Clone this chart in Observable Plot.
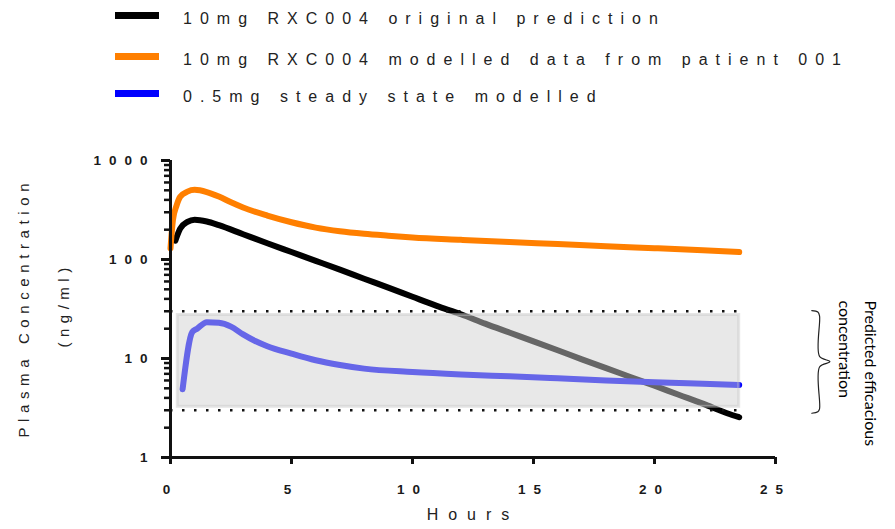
<!DOCTYPE html>
<html><head><meta charset="utf-8">
<script src="https://cdn.jsdelivr.net/npm/d3@7"></script>
<script src="https://cdn.jsdelivr.net/npm/@observablehq/plot@0.6"></script>
<style>
body{margin:0;background:#fff;}
#legend{position:relative;width:895px;height:130px;font-family:"Liberation Sans",Arial,sans-serif;}
.item{position:absolute;left:0;width:895px;height:20px;}
.sw{position:absolute;left:115px;top:3px;width:44px;height:7px;}
.lt{position:absolute;left:183px;top:0;font-size:16px;letter-spacing:8px;color:#222;white-space:nowrap;line-height:20px;}
#chart svg{display:block;}
</style></head><body>
<div id="legend"></div>
<div id="chart"></div>
<script>
// ---- data ----
const seriesNames = [
  "10mg RXC004 original prediction",
  "10mg RXC004 modelled data from patient 001",
  "0.5mg steady state modelled"
];
const seriesColors = ["#000000", "#ff7f00", "#0000ff"];

const blackHours = [0.2, 0.4, 0.7, 1.0, 1.5, 2, 3, 4, 5, 6, 7, 8, 9, 10, 11, 12, 13, 14, 15, 16, 17, 18, 19, 20, 21, 22, 23, 23.5];
const blackConc  = [155, 205, 240, 252, 242, 222, 180, 146, 119, 97, 79, 64, 52, 42, 34, 28, 22.5, 18.3, 14.9, 12.1, 9.8, 8.0, 6.5, 5.3, 4.3, 3.5, 2.8, 2.55];

const orangeHours = [0, 0.1, 0.25, 0.4, 0.7, 1.0, 1.5, 2, 2.5, 3, 4, 5, 6, 7, 8, 9, 10, 12, 14, 16, 18, 20, 22, 23.5];
const orangeConc  = [130, 250, 350, 430, 485, 505, 480, 432, 378, 335, 278, 238, 210, 193, 182, 174, 167, 158, 150, 143, 136, 130, 124, 119];

const blueHours = [0.5, 0.9, 1.1, 1.5, 2, 2.5, 3, 3.5, 4, 5, 6, 7, 8, 10, 12, 14, 16, 18, 20, 22, 23.5];
const blueConc  = [4.9, 18.5, 20, 23.3, 23, 21, 17.5, 15, 13.3, 11.2, 9.6, 8.6, 7.9, 7.3, 6.9, 6.6, 6.3, 6.0, 5.75, 5.55, 5.4];

const bandLimits = [3, 30];              // dotted lines (ng/ml)
const bandShade = {start: 0.3, end: 23.5, low: 3.25, high: 27.5};
const braceHours = [26.5, 26.75, 26.82, 26.82, 27.25, 26.82, 26.82, 26.75, 26.5];
const braceConc  = [30.5, 29.5, 27, 10.5, 9.3, 8.2, 3.1, 2.9, 2.8];

const xTicks = [0, 5, 10, 15, 20, 25];
const yMajorTicks = [1, 10, 100, 1000];
const yMinorTicks = [2,3,4,5,6,7,8,9,20,30,40,50,60,70,80,90,200,300,400,500,600,700,800,900];

const xTitle = "Hours";
const yTitle1 = "Plasma Concentration";
const yTitle2 = "(ng/ml)";
const noteText = "Predicted efficacious\nconcentration";

// ---- build tables ----
const rows = [
  ...blackHours.map((h, i) => ({series: seriesNames[0], hour: h, conc: blackConc[i]})),
  ...orangeHours.map((h, i) => ({series: seriesNames[1], hour: h, conc: orangeConc[i]})),
  ...blueHours.map((h, i) => ({series: seriesNames[2], hour: h, conc: blueConc[i]}))
];
const brace = braceHours.map((h, i) => ({hour: h, conc: braceConc[i]}));

// ---- legend (HTML, above the SVG) ----
const legendTops = [9, 50, 87];
const legend = document.getElementById("legend");
seriesNames.forEach((name, i) => {
  const item = document.createElement("div");
  item.className = "item";
  item.style.top = legendTops[i] + "px";
  const sw = document.createElement("div");
  sw.className = "sw";
  sw.style.background = seriesColors[i];
  const t = document.createElement("div");
  t.className = "lt";
  t.textContent = name;
  item.appendChild(sw); item.appendChild(t);
  legend.appendChild(item);
});

// ---- chart ----
const font = "'Liberation Sans', Arial, sans-serif";
const chart = Plot.plot({
  width: 895,
  height: 399,
  marginTop: 30,
  marginBottom: 72,
  marginLeft: 170,
  marginRight: 120,
  style: {fontFamily: font, color: "#111", background: "#fff", overflow: "visible"},
  x: {domain: [0, 25]},
  y: {type: "log", domain: [1, 1000]},
  color: {domain: seriesNames, range: seriesColors},
  marks: [
    Plot.line(rows, {x: "hour", y: "conc", z: "series", stroke: "series", strokeWidth: 6,
      strokeLinejoin: "round", curve: "monotone-x"}),
    Plot.rect([bandShade], {x1: "start", x2: "end", y1: "low", y2: "high",
      fill: "rgb(208,208,208)", fillOpacity: 0.49, stroke: "#c8c8c8", strokeOpacity: 0.45, strokeWidth: 3}),
    Plot.ruleY(bandLimits, {y: d => d, x1: 0, x2: bandShade.end, stroke: "#111", strokeWidth: 2.5, strokeDasharray: "2.5 9.5"}),
    Plot.line(brace, {x: "hour", y: "conc", stroke: "#222", strokeWidth: 1.2, curve: "catmull-rom"}),
    Plot.axisY({ticks: yMinorTicks, tickSize: 6, strokeWidth: 2.5, tickFormat: () => "", label: null}),
    Plot.axisY({ticks: yMajorTicks, tickSize: 9, tickPadding: 6, strokeWidth: 3, fontSize: 13.5, fontWeight: "bold",
      fill: "#1a1a1a", tickFormat: d => String(d), label: null}),
    Plot.axisX({ticks: xTicks, tickSize: 7, tickPadding: 20, strokeWidth: 3, fontSize: 13.5, fontWeight: "bold",
      fill: "#1a1a1a", tickFormat: d => String(d), label: null}),
    Plot.ruleX([0], {strokeWidth: 3}),
    Plot.ruleY([1], {strokeWidth: 3}),
    Plot.text([yTitle1], {text: d => d, frameAnchor: "left", dx: -146, dy: 128.5, rotate: -90, textAnchor: "start",
      fontSize: 15, fill: "#222"}),
    Plot.text([yTitle2], {text: d => d, frameAnchor: "left", dx: -106, dy: 38.5, rotate: -90, textAnchor: "start",
      fontSize: 15, fill: "#222"}),
    Plot.text([xTitle], {text: d => d, frameAnchor: "bottom", dy: 62, fontSize: 16, fill: "#222"}),
    Plot.text([noteText], {text: d => d, frameAnchor: "right", dx: 85, dy: -8.5, rotate: 90, textAnchor: "start",
      lineAnchor: "middle", lineHeight: 1.65, fontSize: 16, fontFamily: "Lato", fill: "#000"})
  ]
});
document.getElementById("chart").appendChild(chart);
const svg = d3.select(chart);
svg.selectAll('g[aria-label="y-axis tick label"] text').style("letter-spacing", "8px");
svg.selectAll('g[aria-label="x-axis tick label"] text').style("letter-spacing", "8px");
const spacing = {[yTitle1]: "5.6px", [yTitle2]: "5.5px", [xTitle]: "10px"};
svg.selectAll("text").each(function() {
  const s = spacing[this.textContent];
  if (s) this.style.letterSpacing = s;
});
</script>
</body></html>
